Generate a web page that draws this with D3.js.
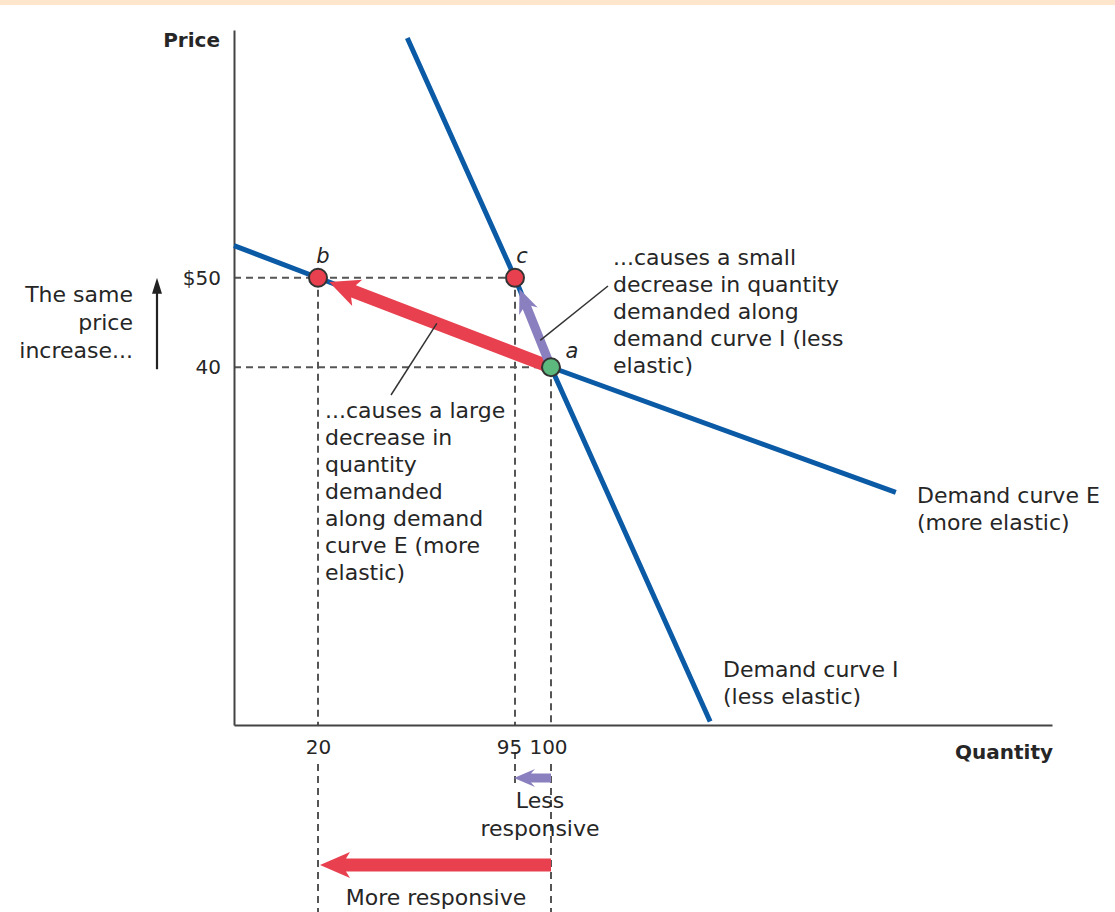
<!DOCTYPE html>
<html>
<head>
<meta charset="utf-8">
<script src="https://cdn.jsdelivr.net/npm/d3@7"></script>
<style>
  body { margin: 0; background: #fff; }
  svg { display: block; }
  text { font-family: "DejaVu Sans", sans-serif; fill: #262626; }
</style>
</head>
<body>
<div id="chart"></div>
<script>
// ---- data ----
const quantityTicks = [20, 95, 100];
const priceTicks = [40, 50];
const priceTickLabels = ["40", "$50"];

// Demand curve E (more elastic) and demand curve I (less elastic)
const demandE = [{ q: 0, p: 53.6 }, { q: 20, p: 50 }, { q: 100, p: 40 }, { q: 217, p: 26 }];
const demandI = [{ q: 54, p: 76.8 }, { q: 95, p: 50 }, { q: 100, p: 40 }, { q: 154, p: 0.4 }];

// Points on the curves: a = starting point, b and c after the price rise
const points = [
  { id: "b", q: 20, p: 50, kind: "after" },
  { id: "c", q: 95, p: 50, kind: "after" },
  { id: "a", q: 100, p: 40, kind: "start" }
];

const priceRise = { from: 40, to: 50 };
const responseE = { from: 100, to: 20 };   // large drop in quantity along E
const responseI = { from: 100, to: 95 };   // small drop in quantity along I

// ---- layout ----
const W = 1115, H = 912;
const FONT = '"DejaVu Sans", sans-serif';
const colors = {
  band: "#fde6cb", curve: "#0b5aa6", red: "#e8404e", purple: "#8a80c0",
  green: "#5cb87d", axis: "#444", dash: "#555", ink: "#262626"
};

const svg = d3.select("#chart").append("svg").attr("width", W).attr("height", H);

svg.append("rect").attr("x", 0).attr("y", 0).attr("width", W).attr("height", 5).attr("fill", colors.band);

// Quantity axis is stretched around 95–100 so the small change stays visible
const x = d3.scaleLinear().domain([0, 20, 95, 100, 270]).range([234, 318, 515, 551, 1052]);
const y = d3.scaleLinear().domain([0, 77.7]).range([725, 30]);

// ---- dashed guide lines ----
const guides = svg.append("g").attr("stroke", colors.dash).attr("stroke-width", 2)
  .attr("stroke-dasharray", "7,5").attr("fill", "none");

const pb = points[0], pc = points[1], pa = points[2];
guides.append("line").attr("x1", x.range()[0]).attr("x2", x(pc.q)).attr("y1", y(pb.p)).attr("y2", y(pb.p));
guides.append("line").attr("x1", x.range()[0]).attr("x2", x(pa.q)).attr("y1", y(pa.p)).attr("y2", y(pa.p));
// above the quantity axis
guides.append("line").attr("x1", x(pb.q)).attr("x2", x(pb.q)).attr("y1", y(pb.p)).attr("y2", y(0));
guides.append("line").attr("x1", x(pc.q)).attr("x2", x(pc.q)).attr("y1", y(pc.p)).attr("y2", y(0));
guides.append("line").attr("x1", x(pa.q)).attr("x2", x(pa.q)).attr("y1", y(pa.p)).attr("y2", y(0));
// below the quantity axis, down to the response arrows
guides.append("line").attr("x1", x(pb.q)).attr("x2", x(pb.q)).attr("y1", 764).attr("y2", H);
guides.append("line").attr("x1", x(pc.q)).attr("x2", x(pc.q)).attr("y1", 752).attr("y2", 788);
guides.append("line").attr("x1", x(pa.q)).attr("x2", x(pa.q)).attr("y1", 764).attr("y2", H);

// ---- axes ----
const xAxis = d3.axisBottom(x).tickValues(quantityTicks).tickSize(0).tickSizeOuter(0).tickPadding(15);
const yAxis = d3.axisLeft(y).tickValues(priceTicks).tickSize(0).tickSizeOuter(0).tickPadding(13)
  .tickFormat((d, i) => priceTickLabels[i]);

const gx = svg.append("g").attr("transform", `translate(0,${y(0)})`).call(xAxis);
const gy = svg.append("g").attr("transform", `translate(${x(0)},0)`).call(yAxis);
[gx, gy].forEach(g => {
  g.attr("font-family", FONT).attr("font-size", 20);
  g.select(".domain").attr("stroke", colors.axis).attr("stroke-width", 2);
  g.selectAll("text").attr("fill", colors.ink);
});
gx.selectAll(".tick text").attr("dx", d => d === 95 ? -6 : (d === 100 ? -3 : 0));

svg.append("text").attr("x", 220).attr("y", 47).attr("text-anchor", "end")
  .attr("font-size", 20).attr("font-weight", 700).text("Price");
svg.append("text").attr("x", 1053).attr("y", 759).attr("text-anchor", "end")
  .attr("font-size", 20).attr("font-weight", 700).text("Quantity");

// ---- demand curves ----
const line = d3.line().x(d => x(d.q)).y(d => y(d.p));
[demandE, demandI].forEach(curve => {
  svg.append("path").datum(curve).attr("d", line).attr("fill", "none")
    .attr("stroke", colors.curve).attr("stroke-width", 5).attr("stroke-linecap", "butt");
});

// ---- arrows ----
function arrowPath(x1, y1, x2, y2, shaft, headW, headL) {
  const dx = x2 - x1, dy = y2 - y1, len = Math.hypot(dx, dy);
  const ux = dx / len, uy = dy / len, nx = -uy, ny = ux;
  const bx = x2 - ux * headL, by = y2 - uy * headL;
  const pts = [
    [x1 + nx * shaft / 2, y1 + ny * shaft / 2],
    [bx + nx * shaft / 2, by + ny * shaft / 2],
    [bx + nx * headW / 2 - ux * 4, by + ny * headW / 2 - uy * 4],
    [x2, y2],
    [bx - nx * headW / 2 - ux * 4, by - ny * headW / 2 - uy * 4],
    [bx - nx * shaft / 2, by - ny * shaft / 2],
    [x1 - nx * shaft / 2, y1 - ny * shaft / 2]
  ];
  return "M" + pts.map(p => p.join(",")).join("L") + "Z";
}
function towards(p, q, dist) {
  const dx = q[0] - p[0], dy = q[1] - p[1], len = Math.hypot(dx, dy);
  return [q[0] - dx / len * dist, q[1] - dy / len * dist];
}

const A = [x(pa.q), y(pa.p)], B = [x(pb.q), y(pb.p)], C = [x(pc.q), y(pc.p)];
const tipB = towards(A, B, 12), tipC = towards(A, C, 12);
svg.append("path").attr("d", arrowPath(A[0], A[1], tipB[0], tipB[1], 13, 28, 26)).attr("fill", colors.red);
svg.append("path").attr("d", arrowPath(A[0], A[1], tipC[0], tipC[1], 9, 20, 20)).attr("fill", colors.purple);

// quantity responses below the axis
svg.append("path").attr("d", arrowPath(x(responseI.from), 778, x(responseI.to) - 1, 778, 9, 18, 17)).attr("fill", colors.purple);
svg.append("path").attr("d", arrowPath(x(responseE.from), 865, x(responseE.to) + 2, 865, 13, 26, 26)).attr("fill", colors.red);

// price increase arrow
const upX = 157;
svg.append("line").attr("x1", upX).attr("x2", upX).attr("y1", y(priceRise.from) + 2).attr("y2", y(priceRise.to) + 10)
  .attr("stroke", "#222").attr("stroke-width", 2.2);
svg.append("path").attr("d", `M${upX},${y(priceRise.to)}L${upX - 5},${y(priceRise.to) + 16}L${upX + 5},${y(priceRise.to) + 16}Z`)
  .attr("fill", "#222");

// ---- leader lines ----
const leaders = svg.append("g").attr("stroke", "#333").attr("stroke-width", 1.5);
const midAB = d3.interpolateArray(A, B)(0.49);
leaders.append("line").attr("x1", midAB[0]).attr("y1", midAB[1]).attr("x2", 391).attr("y2", 395);
const midAC = d3.interpolateArray(A, C)(0.3);
leaders.append("line").attr("x1", midAC[0]).attr("y1", midAC[1]).attr("x2", 608).attr("y2", 286);

// ---- points ----
svg.selectAll("circle.pt").data(points).join("circle").attr("class", "pt")
  .attr("cx", d => x(d.q)).attr("cy", d => y(d.p)).attr("r", 9)
  .attr("fill", d => d.kind === "start" ? colors.green : colors.red)
  .attr("stroke", "#333").attr("stroke-width", 2);

const pointLabelOffset = { a: [21, -9], b: [5, -15], c: [7, -15] };
svg.selectAll("text.pl").data(points).join("text").attr("class", "pl")
  .attr("x", d => x(d.q) + pointLabelOffset[d.id][0]).attr("y", d => y(d.p) + pointLabelOffset[d.id][1])
  .attr("text-anchor", "middle").attr("font-size", 21).attr("font-style", "italic").text(d => d.id);

// ---- text blocks ----
function block(lines, x0, y0, step, anchor) {
  const t = svg.append("text").attr("font-size", 22).attr("text-anchor", anchor || "start");
  lines.forEach((s, i) => t.append("tspan").attr("x", x0).attr("y", y0 + i * step).text(s));
}
block(["The same", "price", "increase..."], 133, 302, 28, "end");
block(["...causes a small", "decrease in quantity", "demanded along", "demand curve I (less", "elastic)"], 613, 265, 27);
block(["...causes a large", "decrease in", "quantity", "demanded", "along demand", "curve E (more", "elastic)"], 325, 418, 27);
block(["Demand curve E", "(more elastic)"], 917, 503, 27);
block(["Demand curve I", "(less elastic)"], 723, 677, 27);
block(["Less", "responsive"], 540, 808, 28, "middle");
block(["More responsive"], 436, 905, 28, "middle");
</script>
</body>
</html>
